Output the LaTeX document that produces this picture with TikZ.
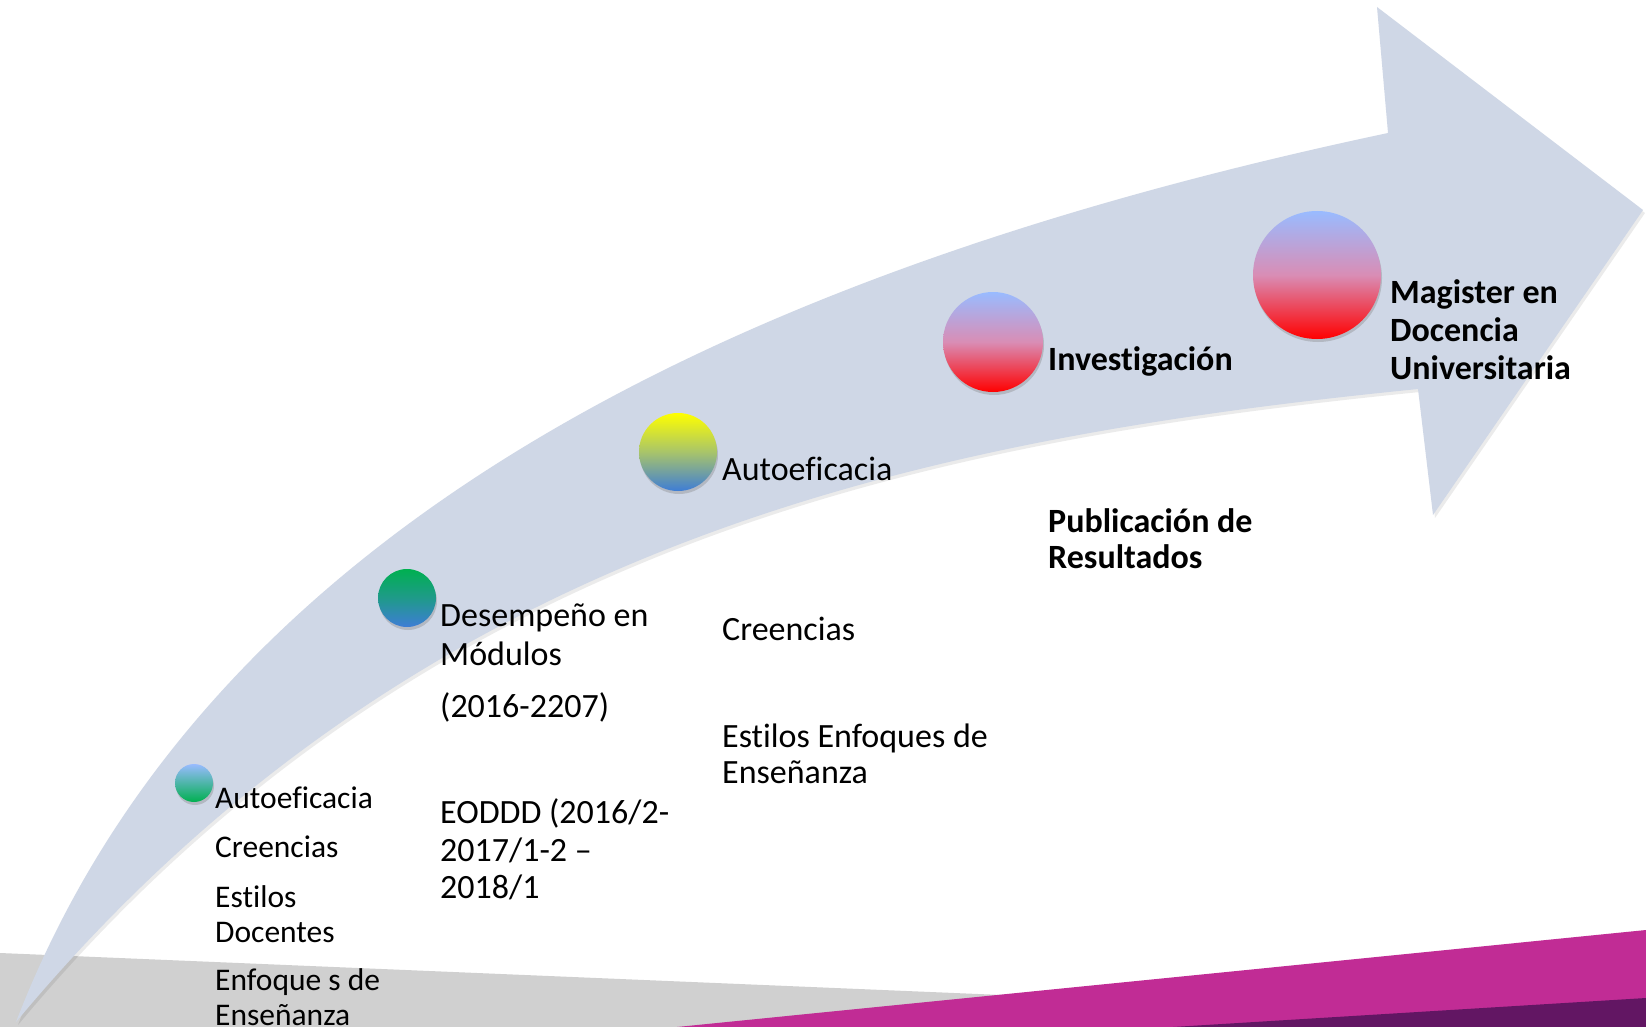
\documentclass[tikz,border=0pt]{standalone}
\usepackage{fontspec}
\setmainfont{Carlito}[Ligatures=NoCommon]
\usetikzlibrary{shadows}
\definecolor{arrowfill}{HTML}{CFD7E6}
\definecolor{bandgray}{HTML}{D0D0D0}
\definecolor{bandmag}{HTML}{C12C95}
\definecolor{bandpurple}{HTML}{621663}
\definecolor{lblue}{HTML}{99BBFF}
\definecolor{dgreen}{HTML}{00B050}
\definecolor{mblue}{HTML}{3E7DD6}
\definecolor{yel}{HTML}{FFFF00}
\definecolor{rred}{HTML}{FF0000}
\definecolor{pinkmid}{HTML}{D98DB5}
\definecolor{tealmid}{HTML}{4DB5A8}
\definecolor{greenmid}{HTML}{1F9A8A}
\definecolor{olivemid}{HTML}{A8C46A}
\tikzset{
  ball/.style={circle, inner sep=0pt,
    drop shadow={opacity=0.35, shadow xshift=1pt, shadow yshift=-3pt}},
  txt/.style={anchor=base west, inner sep=0pt, text=black, font=\fontsize{34}{38}\selectfont},
  txtsmall/.style={anchor=base west, inner sep=0pt, text=black, font=\fontsize{31.5}{35}\selectfont},
  txtbold/.style={anchor=base west, inner sep=0pt, text=black, font=\fontsize{34}{38}\selectfont\bfseries},
}
\begin{document}
\begin{tikzpicture}[x=1pt,y=-1pt]
\useasboundingbox (0,0) rectangle (1646,1027);
\fill[white] (0,0) rectangle (1646,1027);
% background bands
\fill[bandgray] (0,953) -- (1646,1022) -- (1646,1027) -- (0,1027) -- cycle;
\fill[bandmag] (677,1027) -- (1646,930) -- (1646,1027) -- cycle;
\fill[bandpurple] (1173,1027) -- (1646,998) -- (1646,1027) -- cycle;
% arrow shadow and arrow
\fill[black, opacity=0.08] (18,1025) .. controls (218,505) and (790,263) .. (1390,136) -- (1379,10) -- (1645,213) -- (1435,518) -- (1420,392) .. controls (920,442) and (418,545) .. (18,1025) -- cycle;
\fill[arrowfill] (16,1022) .. controls (216,502) and (788,260) .. (1388,133) -- (1377,7) -- (1643,210) -- (1433,515) -- (1418,389) .. controls (918,439) and (416,542) .. (16,1022) -- cycle;
% circles
\node[ball, minimum size=38, top color=lblue, bottom color=dgreen, middle color=tealmid] (c1) at (194,783) {};
\node[ball, minimum size=58, top color=dgreen, bottom color=mblue, middle color=greenmid] (c2) at (407,598) {};
\node[ball, minimum size=78, top color=yel, bottom color=mblue, middle color=olivemid] (c3) at (678,452) {};
\node[ball, minimum size=100, top color=lblue, bottom color=rred, middle color=pinkmid] (c4) at (993,342) {};
\node[ball, minimum size=128, top color=lblue, bottom color=rred, middle color=pinkmid] (c5) at (1317,275) {};
% block 1
\node[txtsmall] (t1a) at (215,808) {Autoeficacia};
\node[txtsmall] (t1b) at (215,857) {Creencias};
\node[txtsmall] (t1c) at (215,907) {Estilos};
\node[txtsmall] (t1d) at (215,942) {Docentes};
\node[txtsmall] (t1e) at (215,990) {Enfoque s de};
\node[txtsmall] (t1f) at (215,1025) {Enseñanza};
% block 2
\node[txt] (t2a) at (440,626) {Desempeño en};
\node[txt] (t2b) at (440,665) {Módulos};
\node[txt] (t2c) at (440,717) {(2016-2207)};
\node[txt] (t2d) at (440,823) {EODDD (2016/2-};
\node[txt] (t2e) at (440,861) {2017/1-2 –};
\node[txt] (t2f) at (440,898) {2018/1};
% block 3
\node[txt] (t3a) at (722,480) {Autoeficacia};
\node[txt] (t3b) at (722,640) {Creencias};
\node[txt] (t3c) at (722,747) {Estilos Enfoques de};
\node[txt] (t3d) at (722,783) {Enseñanza};
% block 4
\node[txtbold] (t4a) at (1048,370) {Investigación};
\node[txtbold] (t4b) at (1048,532) {Publicación de};
\node[txtbold] (t4c) at (1048,568) {Resultados};
% block 5
\node[txtbold] (t5a) at (1390,303) {Magister en};
\node[txtbold] (t5b) at (1390,341) {Docencia};
\node[txtbold] (t5c) at (1390,379) {Universitaria};
\end{tikzpicture}
\end{document}
